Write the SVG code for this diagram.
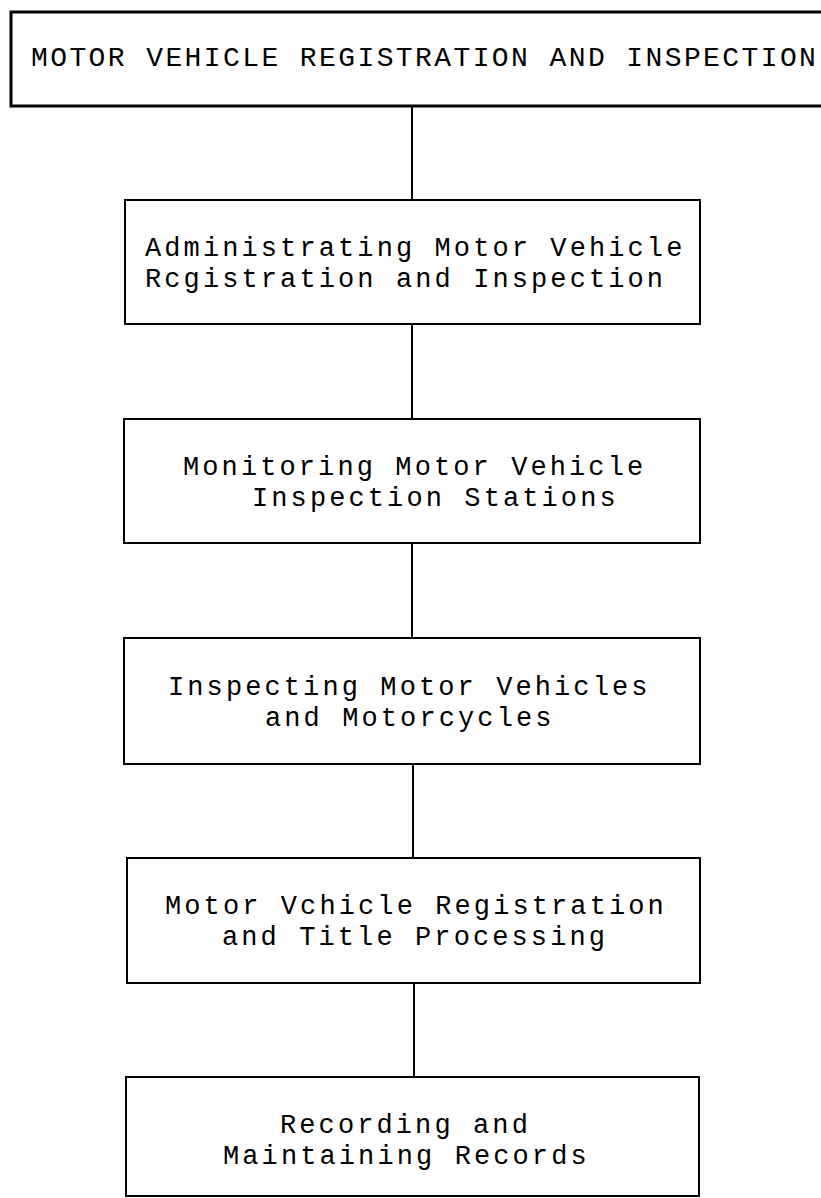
<svg xmlns="http://www.w3.org/2000/svg" width="821" height="1198" viewBox="0 0 821 1198">
<style>
.bg{fill:#ffffff}
.box{fill:#ffffff;stroke:#000;stroke-width:2}
.title-box{fill:#ffffff;stroke:#000;stroke-width:3}
.conn{stroke:#000;stroke-width:2;fill:none}
.lbl{font-family:"Liberation Mono","Courier New",monospace;font-size:27px;letter-spacing:3.1px;fill:#000}
.ttl{font-family:"Liberation Mono","Courier New",monospace;font-size:28px;letter-spacing:2.4px;fill:#000}
</style>
<rect class="bg" x="0" y="0" width="821" height="1198"/>
<g id="connectors">
<line class="conn" x1="412" y1="106" x2="412" y2="200"/>
<line class="conn" x1="412" y1="324" x2="412" y2="419"/>
<line class="conn" x1="412" y1="543" x2="412" y2="638"/>
<line class="conn" x1="413" y1="764" x2="413" y2="858"/>
<line class="conn" x1="414" y1="983" x2="414" y2="1077"/>
</g>
<g id="node-title">
<path class="title-box" d="M824 12 H11 V106 H824"/>
<text class="ttl" x="31" y="66">MOTOR VEHICLE REGISTRATION AND INSPECTION</text>
</g>
<g id="node-admin">
<rect class="box" x="125" y="200" width="575" height="124"/>
<text class="lbl" x="145" y="256">Administrating Motor Vehicle</text>
<text class="lbl" x="145" y="287">Rcgistration and Inspection</text>
</g>
<g id="node-monitoring">
<rect class="box" x="124" y="419" width="576" height="124"/>
<text class="lbl" x="183" y="475">Monitoring Motor Vehicle</text>
<text class="lbl" x="252" y="506">Inspection Stations</text>
</g>
<g id="node-inspecting">
<rect class="box" x="124" y="638" width="576" height="126"/>
<text class="lbl" x="168" y="695">Inspecting Motor Vehicles</text>
<text class="lbl" x="265" y="726">and Motorcycles</text>
</g>
<g id="node-registration">
<rect class="box" x="127" y="858" width="573" height="125"/>
<text class="lbl" x="165" y="914">Motor Vchicle Registration</text>
<text class="lbl" x="222" y="945">and Title Processing</text>
</g>
<g id="node-records">
<rect class="box" x="126" y="1077" width="573" height="119"/>
<text class="lbl" x="280" y="1133">Recording and</text>
<text class="lbl" x="223" y="1164">Maintaining Records</text>
</g>
</svg>
